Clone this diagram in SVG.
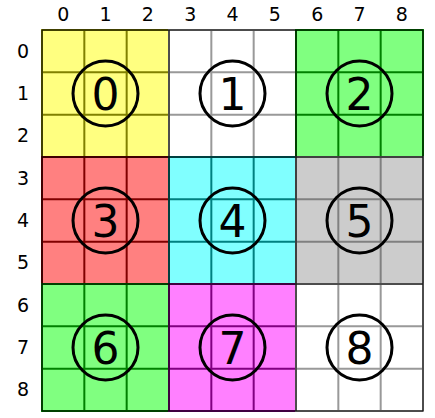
<svg xmlns="http://www.w3.org/2000/svg" width="435" height="418" viewBox="0 0 435 418">
<style>
.ax{font-family:"DejaVu Sans",sans-serif;font-size:19px;fill:#000;text-anchor:middle}
.num{font-family:"DejaVu Sans",sans-serif;font-size:44px;fill:#000;text-anchor:middle}
.ring{fill:none;stroke:#000;stroke-width:3}
.grid{fill:none;stroke-width:2}
.edge{fill:none;stroke:#000;stroke-width:1}
</style>
<rect width="435" height="418" fill="#fff"/>
<g id="axis-top">
<text class="ax" x="63.2" y="21">0</text>
<text class="ax" x="105.5" y="21">1</text>
<text class="ax" x="147.8" y="21">2</text>
<text class="ax" x="190.2" y="21">3</text>
<text class="ax" x="232.5" y="21">4</text>
<text class="ax" x="274.8" y="21">5</text>
<text class="ax" x="317.2" y="21">6</text>
<text class="ax" x="359.5" y="21">7</text>
<text class="ax" x="401.8" y="21">8</text>
</g>
<g id="axis-left">
<text class="ax" x="23" y="57.5">0</text>
<text class="ax" x="23" y="99.8">1</text>
<text class="ax" x="23" y="142.2">2</text>
<text class="ax" x="23" y="184.5">3</text>
<text class="ax" x="23" y="226.8">4</text>
<text class="ax" x="23" y="269.2">5</text>
<text class="ax" x="23" y="311.5">6</text>
<text class="ax" x="23" y="353.8">7</text>
<text class="ax" x="23" y="396.2">8</text>
</g>
<defs>
<path id="cells" d="M0 0H127V127H0Z M42.33 0V127 M84.67 0V127 M0 42.33H127 M0 84.67H127"/>
</defs>
<g id="block0" transform="translate(42,30)"><rect width="127" height="127" fill="#ffff80"/><use href="#cells" class="grid" stroke="#808000"/></g>
<g id="block1" transform="translate(169,30)"><rect width="127" height="127" fill="#ffffff"/><use href="#cells" class="grid" stroke="#999999"/></g>
<g id="block2" transform="translate(296,30)"><rect width="127" height="127" fill="#80ff80"/><use href="#cells" class="grid" stroke="#008000"/></g>
<g id="block3" transform="translate(42,157)"><rect width="127" height="127" fill="#ff8080"/><use href="#cells" class="grid" stroke="#800000"/></g>
<g id="block4" transform="translate(169,157)"><rect width="127" height="127" fill="#80ffff"/><use href="#cells" class="grid" stroke="#008080"/></g>
<g id="block5" transform="translate(296,157)"><rect width="127" height="127" fill="#cccccc"/><use href="#cells" class="grid" stroke="#808080"/></g>
<g id="block6" transform="translate(42,284)"><rect width="127" height="127" fill="#80ff80"/><use href="#cells" class="grid" stroke="#008000"/></g>
<g id="block7" transform="translate(169,284)"><rect width="127" height="127" fill="#ff80ff"/><use href="#cells" class="grid" stroke="#800080"/></g>
<g id="block8" transform="translate(296,284)"><rect width="127" height="127" fill="#ffffff"/><use href="#cells" class="grid" stroke="#999999"/></g>
<g id="block-edges">
<path class="edge" d="M42 30H423V411H42Z M169 30V411 M296 30V411 M42 157H423 M42 284H423"/>
</g>
<g id="labels">
<g id="n0"><circle class="ring" cx="105.5" cy="93.5" r="32.5"/><text class="num" x="105.5" y="109.5">0</text></g>
<g id="n1"><circle class="ring" cx="232.5" cy="93.5" r="32.5"/><text class="num" x="232.5" y="109.5">1</text></g>
<g id="n2"><circle class="ring" cx="359.5" cy="93.5" r="32.5"/><text class="num" x="359.5" y="109.5">2</text></g>
<g id="n3"><circle class="ring" cx="105.5" cy="220.5" r="32.5"/><text class="num" x="105.5" y="236.5">3</text></g>
<g id="n4"><circle class="ring" cx="232.5" cy="220.5" r="32.5"/><text class="num" x="232.5" y="236.5">4</text></g>
<g id="n5"><circle class="ring" cx="359.5" cy="220.5" r="32.5"/><text class="num" x="359.5" y="236.5">5</text></g>
<g id="n6"><circle class="ring" cx="105.5" cy="347.5" r="32.5"/><text class="num" x="105.5" y="363.5">6</text></g>
<g id="n7"><circle class="ring" cx="232.5" cy="347.5" r="32.5"/><text class="num" x="232.5" y="363.5">7</text></g>
<g id="n8"><circle class="ring" cx="359.5" cy="347.5" r="32.5"/><text class="num" x="359.5" y="363.5">8</text></g>
</g>
</svg>
